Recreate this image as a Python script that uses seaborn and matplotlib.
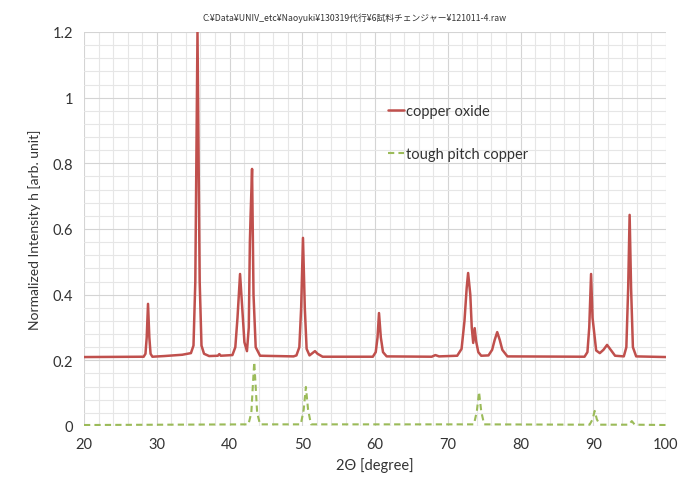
import numpy as np
import pandas as pd
import matplotlib
matplotlib.use("Agg")
import matplotlib.pyplot as plt
import seaborn as sns
from matplotlib.ticker import MultipleLocator

# points (2theta, normalized intensity)
oxide_2theta = [20.0, 28.2, 28.45, 28.62, 28.8, 28.98, 29.15, 29.4, 31.0, 33.5, 34.7, 35.05, 35.3, 35.6,
                35.9, 36.15, 36.5, 37.2, 38.4, 38.6, 38.8, 40.4, 40.8, 41.1, 41.45, 41.75, 42.05, 42.4,
                42.65, 42.8, 42.9, 43.1, 43.3, 43.6, 44.2, 48.8, 49.2, 49.6, 49.85, 50.1, 50.35, 50.6,
                51.0, 51.4, 51.75, 52.1, 52.8, 59.7, 60.1, 60.35, 60.55, 60.8, 61.1, 61.6, 67.8, 68.3,
                68.8, 71.3, 71.9, 72.3, 72.6, 72.8, 73.1, 73.3, 73.5, 73.7, 73.9, 74.2, 74.6, 75.6,
                76.1, 76.45, 76.8, 77.15, 77.5, 78.2, 88.8, 89.2, 89.45, 89.7, 89.9, 90.1, 90.4, 90.9,
                91.4, 91.9, 92.4, 93.0, 94.2, 94.55, 94.8, 95.0, 95.2, 95.45, 95.9, 100.0]
oxide_int = [0.210, 0.211, 0.220, 0.270, 0.372, 0.270, 0.220, 0.211, 0.213, 0.217, 0.222, 0.245,
             0.440, 1.200, 0.440, 0.245, 0.220, 0.213, 0.214, 0.219, 0.214, 0.216, 0.240, 0.330,
             0.463, 0.360, 0.255, 0.228, 0.300, 0.560, 0.640, 0.783, 0.400, 0.240, 0.214, 0.212,
             0.215, 0.240, 0.360, 0.573, 0.360, 0.235, 0.215, 0.222, 0.228, 0.220, 0.211, 0.211,
             0.225, 0.270, 0.344, 0.270, 0.225, 0.212, 0.211, 0.216, 0.212, 0.214, 0.235, 0.320,
             0.420, 0.466, 0.400, 0.300, 0.253, 0.298, 0.258, 0.225, 0.214, 0.215, 0.232, 0.262,
             0.286, 0.262, 0.232, 0.212, 0.211, 0.225, 0.300, 0.463, 0.330, 0.290, 0.230, 0.222,
             0.232, 0.247, 0.232, 0.214, 0.212, 0.240, 0.420, 0.643, 0.420, 0.240, 0.212, 0.210]

copper_2theta = [20.0, 42.6, 43.0, 43.2, 43.4, 43.6, 43.8, 44.2, 49.8, 50.2, 50.5, 50.8, 51.2,
                 73.6, 74.0, 74.3, 74.6, 75.0, 89.5, 89.9, 90.2, 90.5, 90.9, 94.9, 95.3, 95.7, 100.0]
copper_int = [0.003, 0.005, 0.040, 0.120, 0.195, 0.120, 0.040, 0.005, 0.005, 0.050, 0.119, 0.050,
              0.005, 0.005, 0.045, 0.104, 0.045, 0.005, 0.004, 0.020, 0.046, 0.020, 0.004, 0.004,
              0.015, 0.004, 0.003]

title_text = "C:¥Data¥UNIV_etc¥Naoyuki¥130319代行¥6試料チェンジャー¥121011-4.raw"

sns.set_style("white")
plt.rcParams["font.family"] = ["Lato", "DejaVu Sans"]

fig = plt.figure(figsize=(6.96, 4.85), dpi=100)
ax = fig.add_axes([84 / 696, 1 - 427 / 485, 582 / 696, 394 / 485])

oxide = pd.DataFrame({"x": oxide_2theta, "y": oxide_int})
copper = pd.DataFrame({"x": copper_2theta, "y": copper_int})

sns.lineplot(data=oxide, x="x", y="y", ax=ax, sort=False, estimator=None,
             color="#C0504D", linewidth=1.8, label="copper oxide")
sns.lineplot(data=copper, x="x", y="y", ax=ax, sort=False, estimator=None,
             color="#9BBB59", linewidth=1.5, linestyle=(0, (3, 2)), label="tough pitch copper")

ax.set_xlim(20, 100)
ax.set_ylim(0, 1.2)
ax.xaxis.set_major_locator(MultipleLocator(10))
ax.xaxis.set_minor_locator(MultipleLocator(2))
ax.yaxis.set_major_locator(MultipleLocator(0.2))
ax.yaxis.set_minor_locator(MultipleLocator(0.04))
ax.set_yticks([0, 0.2, 0.4, 0.6, 0.8, 1.0, 1.2], ["0", "0.2", "0.4", "0.6", "0.8", "1", "1.2"])
ax.grid(which="major", color="#D4D4D4", linewidth=0.8)
ax.grid(which="minor", color="#E6E6E6", linewidth=0.8)
ax.set_axisbelow(True)
for s in ax.spines.values():
    s.set_visible(False)
ax.tick_params(axis="both", which="both", length=0, labelsize=10.5, colors="#333333", pad=8)

ax.set_xlabel("2Θ [degree]", fontsize=10.5, color="#333333", labelpad=4)
ax.set_ylabel("Normalized Intensity h [arb. unit]", fontsize=10, color="#333333", labelpad=8)

leg = ax.legend(loc="upper left", bbox_to_anchor=(0.5, 0.85), frameon=False, fontsize=10.5,
                labelspacing=2.0, handlelength=1.1, handletextpad=0.1)
for t in leg.get_texts():
    t.set_color("#333333")

fig.text(0.51, 1 - 18 / 485, title_text, ha="center", va="center", fontsize=6.3,
         color="#333333", family=["Noto Sans CJK JP", "DejaVu Sans"])

fig.savefig("out.png", dpi=100)
